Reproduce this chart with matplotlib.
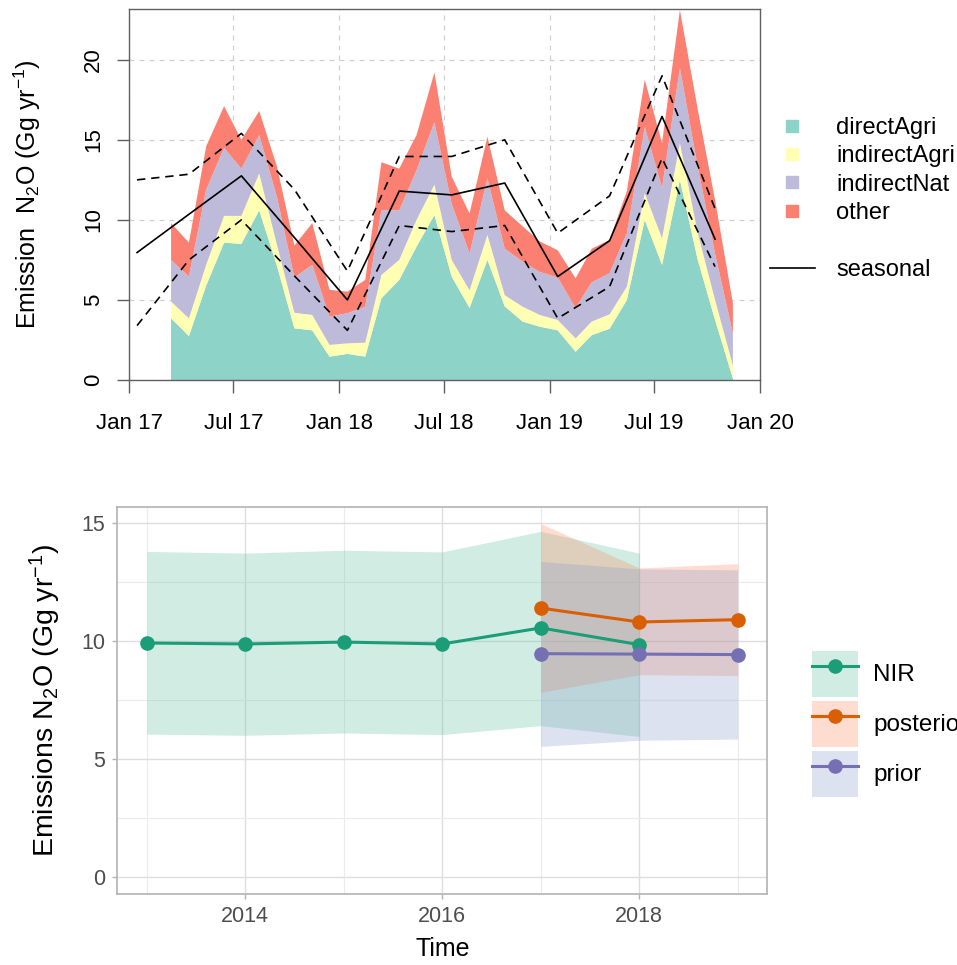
import matplotlib
matplotlib.use('Agg')
import matplotlib.pyplot as plt
from datetime import datetime
from matplotlib.lines import Line2D
from matplotlib.patches import Patch
from matplotlib.legend_handler import HandlerTuple

plt.rcParams['font.family'] = ['Liberation Sans', 'DejaVu Sans']
plt.rcParams['mathtext.fontset'] = 'custom'
plt.rcParams['mathtext.rm'] = 'Liberation Sans'
plt.rcParams['mathtext.it'] = 'Liberation Sans:italic'
plt.rcParams['mathtext.bf'] = 'Liberation Sans:bold'

# ---------------- top panel data (monthly, mid-month) ----------------
months = ['2017-03', '2017-04', '2017-05', '2017-06', '2017-07', '2017-08', '2017-09',
          '2017-10', '2017-11', '2017-12', '2018-01', '2018-02', '2018-03', '2018-04',
          '2018-05', '2018-06', '2018-07', '2018-08', '2018-09', '2018-10', '2018-11',
          '2018-12', '2019-01', '2019-02', '2019-03', '2019-04', '2019-05', '2019-06',
          '2019-07', '2019-08', '2019-09', '2019-10', '2019-11']
direct_agri = [3.85, 2.75, 5.9, 8.58, 8.5, 10.6, 7.1, 3.23, 3.1, 1.46, 1.63, 1.46, 5.1, 6.25,
               8.33, 10.3, 6.46, 4.5, 7.5, 4.6, 3.65, 3.33, 3.1, 1.77, 2.8, 3.2, 5.0, 10.0,
               7.19, 12.5, 7.5, 3.75, 0.1]
indirect_agri = [1.05, 1.1, 1.3, 1.67, 1.75, 2.3, 1.3, 0.97, 0.96, 0.73, 0.66, 0.87, 1.46, 1.25,
                 1.67, 1.9, 1.04, 1.1, 1.56, 0.7, 0.93, 0.73, 0.65, 0.83, 0.85, 0.9, 0.83, 1.67,
                 1.66, 2.3, 1.67, 1.25, 0.8]
indirect_nat = [2.6, 2.61, 4.7, 4.25, 2.95, 2.4, 3.0, 2.2, 3.13, 1.77, 1.88, 2.25, 4.04, 3.1,
                3.1, 3.9, 3.5, 2.3, 3.54, 2.9, 2.82, 2.69, 2.65, 1.9, 2.45, 2.57, 3.34, 4.13,
                3.15, 4.7, 4.13, 2.9, 2.0]
other = [2.3, 2.12, 2.7, 2.6, 1.8, 1.5, 1.9, 2.0, 2.61, 1.67, 1.35, 1.67, 3.0, 2.6,
         2.2, 3.1, 1.7, 2.5, 2.6, 2.4, 2.2, 1.9, 1.7, 1.85, 2.1, 2.08, 2.63, 2.95,
         2.8, 3.6, 3.6, 3.35, 1.9]
layer_names = ['directAgri', 'indirectAgri', 'indirectNat', 'other']
layer_colors = ['#8DD3C7', '#FFFFB3', '#BEBADA', '#FB8072']

season_months = ['2017-01', '2017-04', '2017-07', '2017-10', '2018-01', '2018-04',
                 '2018-07', '2018-10', '2019-01', '2019-04', '2019-07', '2019-10']
seasonal = [7.96, 10.35, 12.75, 8.9, 5.0, 11.8, 11.56, 12.3, 6.46, 8.7, 16.46, 8.8]
seasonal_hi = [12.5, 12.85, 15.4, 11.9, 6.8, 13.96, 13.96, 15.0, 9.17, 11.5, 19.0, 10.7]
seasonal_lo = [3.4, 7.5, 10.0, 6.5, 3.1, 9.65, 9.27, 9.65, 3.85, 5.83, 13.85, 7.08]

top_xtick_dates = ['2017-01-01', '2017-07-01', '2018-01-01', '2018-07-01',
                   '2019-01-01', '2019-07-01', '2020-01-01']
top_xtick_labels = ['Jan 17', 'Jul 17', 'Jan 18', 'Jul 18', 'Jan 19', 'Jul 19', 'Jan 20']
top_yticks = [0, 5, 10, 15, 20]

# ---------------- bottom panel data (annual) ----------------
nir_years = [2013, 2014, 2015, 2016, 2017, 2018]
nir = [9.9, 9.86, 9.94, 9.86, 10.54, 9.83]
nir_hi = [13.78, 13.71, 13.83, 13.76, 14.63, 13.71]
nir_lo = [6.04, 5.99, 6.09, 6.02, 6.4, 5.94]
inv_years = [2017, 2018, 2019]
posterior = [11.38, 10.79, 10.89]
posterior_hi = [14.96, 13.08, 13.26]
posterior_lo = [7.81, 8.56, 8.52]
prior = [9.45, 9.43, 9.41]
prior_hi = [13.36, 13.04, 13.0]
prior_lo = [5.52, 5.78, 5.83]
series_names = ['NIR', 'posterior', 'prior']
line_colors = ['#1B9E77', '#D95F02', '#7570B3']
fill_colors = ['#66C2A5', '#FC8D62', '#8DA0CB']


def mid_month(s):
    return datetime.strptime(s + '-15', '%Y-%m-%d')


W, H = 957, 965
fig = plt.figure(figsize=(W / 100, H / 100), dpi=100)

# ================= top panel =================
ax1 = fig.add_axes([129 / W, 1 - 380 / H, 631 / W, 371 / H])
x = [mid_month(m) for m in months]
ax1.stackplot(x, direct_agri, indirect_agri, indirect_nat, other,
              colors=layer_colors, linewidth=0, zorder=2)
sx = [mid_month(m) for m in season_months]
ax1.plot(sx, seasonal, color='black', lw=1.2, zorder=3)
ax1.plot(sx, seasonal_hi, color='black', lw=1.2, ls=(0, (5, 3.5)), zorder=3)
ax1.plot(sx, seasonal_lo, color='black', lw=1.2, ls=(0, (5, 3.5)), zorder=3)

ax1.set_xlim(datetime(2017, 1, 1), datetime(2020, 1, 1))
ax1.set_ylim(0, 23.17)
tick_dt = [datetime.strptime(d, '%Y-%m-%d') for d in top_xtick_dates]
ax1.set_xticks(tick_dt)
ax1.set_xticklabels(top_xtick_labels)
ax1.set_yticks(top_yticks)
ax1.set_yticklabels([str(v) for v in top_yticks], rotation=90, va='center')
ax1.grid(True, color='#D0D0D0', ls=(0, (4, 4)), lw=0.9)
ax1.set_axisbelow(True)
for sp in ax1.spines.values():
    sp.set_color('#606060')
    sp.set_linewidth(1.0)
ax1.tick_params(axis='both', length=9, width=1, color='#606060', labelsize=16, labelcolor='black')
ax1.tick_params(axis='x', pad=15)
ax1.tick_params(axis='y', pad=9)
ax1.set_ylabel('Emission  N$_2$O (Gg yr$^{-1}$)', fontsize=18, va='center')
ax1.yaxis.set_label_coords((27 - 129) / 631, 0.5)

top_handles = [Line2D([0], [0], marker='s', ls='None', color=c, markersize=8) for c in layer_colors]
top_handles += [Line2D([], [], ls='None'), Line2D([0], [0], color='black', lw=1.2)]
top_labels = layer_names + ['', 'seasonal']
fig.legend(top_handles, top_labels, loc='upper left', bbox_to_anchor=(770 / W, 1 - 117 / H),
           frameon=False, fontsize=17, handlelength=1.9, handletextpad=0.9,
           labelspacing=0.27, borderpad=0, borderaxespad=0)

# ================= bottom panel =================
ax2 = fig.add_axes([117.3 / W, 1 - 894.3 / H, 650 / W, 387 / H])
groups = [(nir_years, nir, nir_lo, nir_hi), (inv_years, posterior, posterior_lo, posterior_hi),
          (inv_years, prior, prior_lo, prior_hi)]
for (yrs, val, lo, hi), fc in zip(groups, fill_colors):
    ax2.fill_between(yrs, lo, hi, color=fc, alpha=0.3, lw=0, zorder=2)
for (yrs, val, lo, hi), lc in zip(groups, line_colors):
    ax2.plot(yrs, val, color=lc, lw=2.2, marker='o', ms=9.5, zorder=3)

ax2.set_xlim(2012.7, 2019.3)
ax2.set_ylim(-0.746, 15.65)
ax2.set_xticks([2014, 2016, 2018])
ax2.set_xticks([2013, 2015, 2017, 2019], minor=True)
ax2.set_yticks([0, 5, 10, 15])
ax2.set_yticks([2.5, 7.5, 12.5], minor=True)
ax2.grid(True, which='major', color='#DEDEDE', lw=1.0)
ax2.grid(True, which='minor', color='#EBEBEB', lw=0.8)
ax2.set_axisbelow(True)
for sp in ax2.spines.values():
    sp.set_color('#B3B3B3')
    sp.set_linewidth(1.2)
ax2.tick_params(which='major', length=3.5, width=1, color='#B3B3B3', labelsize=15.5,
                labelcolor='#4D4D4D', pad=5)
ax2.tick_params(which='minor', length=0)
ax2.set_xlabel('Time', fontsize=18, va='center')
ax2.xaxis.set_label_coords(0.5, (894.3 - 949) / 387)
ax2.set_ylabel('Emissions N$_2$O (Gg yr$^{-1}$)', fontsize=20.5, va='center')
ax2.yaxis.set_label_coords((45 - 117.3) / 650, 0.5)

bot_handles = [(Patch(facecolor=fc, alpha=0.3, lw=0),
                Line2D([0], [0], color=lc, lw=2.2, marker='o', ms=9.5))
               for fc, lc in zip(fill_colors, line_colors)]
fig.legend(bot_handles, series_names, handler_map={tuple: HandlerTuple(ndivide=1)},
           loc='upper left', bbox_to_anchor=(812 / W, 1 - 651 / H), frameon=False,
           fontsize=17.5, handlelength=1.89, handleheight=2.535, labelspacing=0.165,
           handletextpad=0.62, borderpad=0, borderaxespad=0)

fig.savefig('out.png', dpi=100)
